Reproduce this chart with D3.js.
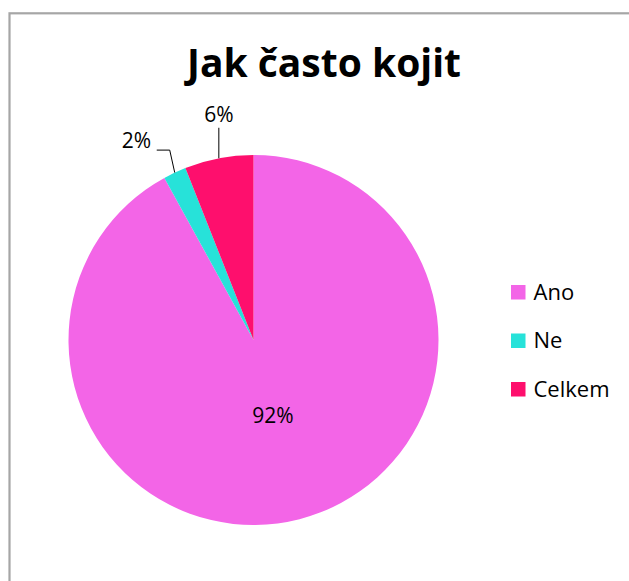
<!DOCTYPE html>
<html>
<head>
<meta charset="utf-8">
<script src="https://cdn.jsdelivr.net/npm/d3@7"></script>
<style>
  html, body { margin: 0; padding: 0; background: #fff; }
  svg { display: block; }
  text { font-family: "Open Sans", Lato, sans-serif; }
</style>
</head>
<body>
<svg id="chart" width="629" height="581"></svg>
<script>
// Breastfeeding survey: share of answers
const categories = ["Ano", "Ne", "Celkem"];
const values = [92, 2, 6];
const labels = ["92%", "2%", "6%"];
const colors = ["#F365E7", "#27E2D9", "#FE0F6D"];
const title = "Jak často kojit";

const svg = d3.select("#chart");

// chart frame
svg.append("rect")
  .attr("x", 9.5).attr("y", 13.3)
  .attr("width", 640).attr("height", 600)
  .attr("fill", "#fff")
  .attr("stroke", "#a6a6a6")
  .attr("stroke-width", 2.2);

svg.append("text")
  .attr("x", 324).attr("y", 77)
  .attr("text-anchor", "middle")
  .attr("font-size", 39)
  .attr("font-weight", 700)
  .attr("fill", "#000")
  .text(title);

const cx = 253.5, cy = 340, r = 185;
const g = svg.append("g").attr("transform", `translate(${cx},${cy})`);

const pie = d3.pie().sort(null).value(d => d.v);
const data = categories.map((c, i) => ({ c, v: values[i], label: labels[i], color: colors[i] }));
const arcs = pie(data);
const arc = d3.arc().innerRadius(0).outerRadius(r);

g.selectAll("path.slice")
  .data(arcs)
  .join("path")
  .attr("class", "slice")
  .attr("d", arc)
  .attr("fill", d => d.data.color);

// inside label for the large slice
const inside = d3.arc().innerRadius(r * 0.42).outerRadius(r * 0.42);
{
  const a = arcs[0];
  const [x, y] = inside.centroid(a);
  g.append("text")
    .attr("x", x).attr("y", y)
    .attr("dy", "0.36em")
    .attr("text-anchor", "middle")
    .attr("font-size", 21)
    .attr("fill", "#000")
    .text(a.data.label);
}

// outside labels with leader lines
function edgePoint(a) {
  const m = (a.startAngle + a.endAngle) / 2;
  return [r * Math.sin(m), -r * Math.cos(m)];
}

// "Ne" slice: bent leader
{
  const a = arcs[1];
  const [ex, ey] = edgePoint(a);
  const kx = ex - 5, ky = ey - 22.5;
  g.append("path")
    .attr("d", `M${ex},${ey}L${kx},${ky}L${kx - 13},${ky}`)
    .attr("fill", "none").attr("stroke", "#000").attr("stroke-width", 1);
  g.append("text")
    .attr("x", kx - 18.5).attr("y", ky - 2)
    .attr("text-anchor", "end")
    .attr("font-size", 21)
    .attr("fill", "#000")
    .text(a.data.label);
}
// "Celkem" slice: straight leader
{
  const a = arcs[2];
  const [ex, ey] = edgePoint(a);
  g.append("path")
    .attr("d", `M${ex},${ey}L${ex},${ey - 30.5}`)
    .attr("fill", "none").attr("stroke", "#000").attr("stroke-width", 1);
  g.append("text")
    .attr("x", ex).attr("y", ey - 36.5)
    .attr("text-anchor", "middle")
    .attr("font-size", 21)
    .attr("fill", "#000")
    .text(a.data.label);
}

// legend
const legend = svg.append("g").attr("transform", "translate(511,285)");
const item = legend.selectAll("g")
  .data(data)
  .join("g")
  .attr("transform", (d, i) => `translate(0,${i * 48.5})`);
item.append("rect")
  .attr("width", 14.5).attr("height", 14.5)
  .attr("fill", d => d.color);
item.append("text")
  .attr("x", 22.5).attr("y", 14.5)
  .attr("font-size", 22)
  .attr("fill", "#000")
  .text(d => d.c);
</script>
</body>
</html>
